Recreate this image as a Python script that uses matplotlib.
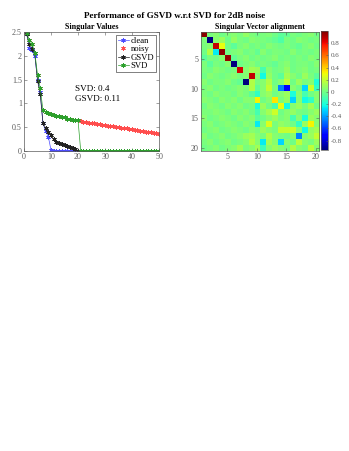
import matplotlib
matplotlib.use("Agg")
import matplotlib.pyplot as plt
import numpy as np

plt.rcParams['font.family'] = ['Liberation Serif', 'DejaVu Serif']

idx = list(range(1, 51))
clean = [2.45, 2.17, 2.12, 2.00, 1.50, 1.25, 0.58, 0.42, 0.30, 0.02] + [0.01] * 10 + [0.0] * 30
svd = [2.48, 2.33, 2.25, 2.07, 1.60, 1.33, 0.86, 0.82, 0.80, 0.78,
       0.76, 0.74, 0.73, 0.72, 0.71, 0.68, 0.67, 0.66, 0.65, 0.645] + [0.0] * 30
noisy = [2.48, 2.33, 2.25, 2.07, 1.60, 1.33, 0.86, 0.82, 0.80, 0.78,
         0.76, 0.74, 0.73, 0.72, 0.71, 0.68, 0.67, 0.66, 0.65, 0.645,
         0.63, 0.62, 0.61, 0.60, 0.59, 0.585, 0.575, 0.565, 0.555, 0.545,
         0.535, 0.53, 0.52, 0.51, 0.50, 0.495, 0.485, 0.475, 0.465, 0.46,
         0.45, 0.44, 0.43, 0.42, 0.41, 0.40, 0.395, 0.385, 0.375, 0.365]
gsvd = [2.45, 2.25, 2.15, 2.05, 1.48, 1.20, 0.60, 0.48, 0.40, 0.33,
        0.25, 0.20, 0.17, 0.15, 0.13, 0.10, 0.08, 0.06, 0.04, 0.01] + [0.0] * 30

align = [
    [0.98, 0.02, 0.05, 0.0, 0.03, 0.05, 0.02, 0.08, 0.03, 0.0, 0.02, 0.04, 0.0, -0.05, -0.03, 0.02, 0.0, 0.03, 0.05, 0.0],
    [0.03, -0.95, 0.05, 0.1, 0.0, 0.08, 0.02, 0.0, 0.05, 0.03, 0.02, 0.0, -0.03, -0.08, 0.02, 0.0, 0.05, 0.03, 0.0, 0.02],
    [0.02, 0.05, 0.88, 0.28, 0.0, -0.05, 0.02, 0.05, 0.0, 0.03, 0.0, 0.05, 0.02, 0.0, 0.03, 0.0, -0.03, 0.02, 0.05, 0.0],
    [0.0, 0.15, -0.25, 0.97, 0.0, 0.03, 0.05, 0.0, 0.02, -0.03, 0.05, 0.0, 0.03, 0.02, 0.0, 0.05, 0.0, 0.02, 0.0, 0.03],
    [-0.05, 0.02, 0.0, 0.05, 0.96, -0.03, 0.02, 0.05, 0.0, 0.03, 0.0, 0.02, 0.05, 0.0, 0.02, 0.0, 0.03, 0.0, 0.05, 0.02],
    [0.03, -0.05, 0.02, 0.0, 0.05, -0.95, 0.0, 0.03, 0.05, 0.0, 0.02, 0.0, -0.03, 0.02, 0.05, 0.0, 0.02, 0.03, 0.0, 0.05],
    [0.02, 0.0, 0.05, 0.03, 0.0, 0.02, 0.85, 0.05, 0.12, 0.1, -0.1, 0.05, 0.0, 0.02, 0.08, 0.0, 0.03, 0.05, 0.0, 0.02],
    [0.0, 0.05, 0.02, 0.0, 0.03, 0.05, 0.02, 0.05, 0.88, 0.05, -0.22, 0.08, 0.0, -0.05, 0.12, 0.05, 0.0, 0.1, 0.02, -0.05],
    [0.05, 0.0, 0.03, 0.02, 0.05, 0.0, -0.03, -0.95, 0.15, 0.02, 0.05, 0.15, 0.0, 0.05, 0.18, 0.0, 0.1, 0.02, 0.05, -0.2],
    [0.02, 0.05, 0.0, 0.03, 0.0, 0.02, 0.05, 0.03, 0.15, -0.03, 0.05, 0.2, 0.02, -0.45, -0.7, 0.05, 0.0, -0.3, 0.22, -0.15],
    [0.03, 0.0, 0.05, 0.02, 0.03, 0.0, 0.05, 0.02, -0.05, -0.15, 0.05, 0.1, 0.0, 0.05, 0.1, -0.2, 0.05, -0.1, 0.0, 0.05],
    [0.05, 0.03, 0.0, 0.05, 0.02, 0.05, 0.0, 0.05, 0.05, 0.32, 0.0, 0.05, 0.35, 0.02, 0.08, -0.3, 0.05, -0.22, -0.15, 0.05],
    [0.0, 0.05, 0.03, 0.0, 0.05, 0.02, 0.05, 0.0, 0.02, -0.2, 0.1, 0.0, -0.1, 0.28, -0.22, 0.05, 0.1, 0.02, 0.12, 0.0],
    [0.03, 0.02, 0.05, 0.03, 0.0, 0.05, 0.02, 0.05, 0.0, -0.1, 0.05, 0.12, 0.22, 0.0, 0.05, 0.08, 0.02, 0.0, 0.05, 0.1],
    [0.05, 0.0, 0.02, 0.05, 0.03, 0.0, 0.05, 0.02, 0.05, -0.05, 0.0, 0.05, 0.1, 0.02, 0.05, -0.1, 0.05, -0.2, 0.1, 0.05],
    [0.02, 0.05, 0.0, 0.02, 0.05, 0.03, 0.0, 0.05, 0.02, -0.25, 0.05, 0.25, 0.02, 0.08, 0.05, 0.0, -0.15, 0.1, 0.32, 0.05],
    [0.0, 0.03, 0.05, 0.0, 0.02, 0.05, 0.03, 0.0, 0.05, 0.02, 0.1, 0.05, 0.02, 0.2, 0.2, 0.22, 0.05, -0.22, 0.08, 0.12],
    [0.05, 0.0, 0.02, 0.05, 0.0, 0.02, 0.05, 0.1, 0.12, 0.05, 0.02, 0.15, 0.05, 0.02, 0.0, 0.05, -0.45, 0.05, 0.1, 0.2],
    [0.02, 0.05, 0.0, 0.03, 0.05, 0.0, 0.02, 0.05, 0.15, 0.05, -0.25, 0.12, 0.05, -0.3, 0.05, 0.0, 0.18, 0.05, 0.02, 0.1],
    [0.0, 0.02, 0.05, 0.0, 0.03, 0.05, 0.12, 0.02, 0.05, 0.12, -0.12, 0.05, 0.1, 0.05, 0.02, 0.15, 0.05, 0.02, 0.18, 0.05],
]

fig = plt.figure(figsize=(3.49, 4.51), dpi=100)
gray = '0.35'
fs = 5.8
ast = (6, 2, 0)

fig.text(0.5, 1 - 16 / 451, 'Performance of GSVD w.r.t SVD for 2dB noise',
         ha='center', va='center', fontsize=6.6, fontweight='bold')

# Left: singular values
ax1 = fig.add_axes([0.0688, 0.665, 0.387, 0.264])
ax1.plot(idx, clean, color='#4d4dff', marker=ast, ms=3.2, mew=0.6, lw=0.5, label='clean')
ax1.plot(idx, noisy, color='#ff4d4d', marker=ast, ms=3.2, mew=0.6, lw=0, label='noisy')
ax1.plot(idx, gsvd, color='#222222', marker=ast, ms=3.2, mew=0.6, lw=0.5, label='GSVD')
ax1.plot(idx, svd, color='#2ca02c', marker=ast, ms=3.2, mew=0.6, lw=0.5, label='SVD')
ax1.set_xlim(0, 50)
ax1.set_ylim(0, 2.5)
ax1.set_xticks([0, 10, 20, 30, 40, 50])
ax1.set_yticks([0, 0.5, 1, 1.5, 2, 2.5])
ax1.set_yticklabels(['0', '0.5', '1', '1.5', '2', '2.5'])
ax1.set_title('Singular Values', fontsize=5.8, fontweight='bold', pad=2)
ax1.text(19, 1.30, 'SVD: 0.4', fontsize=6.6, va='center')
ax1.text(19, 1.10, 'GSVD: 0.11', fontsize=6.6, va='center')
leg = ax1.legend(loc='upper right', fontsize=6.2, handlelength=1.3, handletextpad=0.2,
                 borderpad=0.25, labelspacing=0.05, fancybox=False, framealpha=1,
                 borderaxespad=0.3)
leg.get_frame().set_edgecolor('0.3')
leg.get_frame().set_linewidth(0.5)

# Right: alignment heatmap
ax2 = fig.add_axes([0.575, 0.665, 0.339, 0.264])
A = np.array(align)
im = ax2.imshow(A, cmap='jet', vmin=-0.95, vmax=1.0, aspect='auto',
                extent=[0.5, 20.5, 20.5, 0.5], interpolation='nearest')
ax2.set_xticks([5, 10, 15, 20])
ax2.set_yticks([5, 10, 15, 20])
ax2.set_title('Singular Vector alignment', fontsize=5.8, fontweight='bold', pad=2)

cax = fig.add_axes([0.919, 0.668, 0.022, 0.263])
cb = fig.colorbar(im, cax=cax)
cb.set_ticks([-0.8, -0.6, -0.4, -0.2, 0, 0.2, 0.4, 0.6, 0.8])
cb.set_ticklabels(['-0.8', '-0.6', '-0.4', '-0.2', '0', '0.2', '0.4', '0.6', '0.8'])
cb.outline.set_edgecolor(gray)
cb.outline.set_linewidth(0.5)
cax.tick_params(labelsize=5.0, colors=gray, direction='in', length=1.5, width=0.4, pad=1.5)

for ax in (ax1, ax2):
    ax.tick_params(labelsize=fs, colors=gray, direction='in', length=2, width=0.4,
                   top=True, right=True, pad=1.5)
    for s in ax.spines.values():
        s.set_edgecolor(gray)
        s.set_linewidth(0.5)

fig.savefig('out.png', dpi=100)
